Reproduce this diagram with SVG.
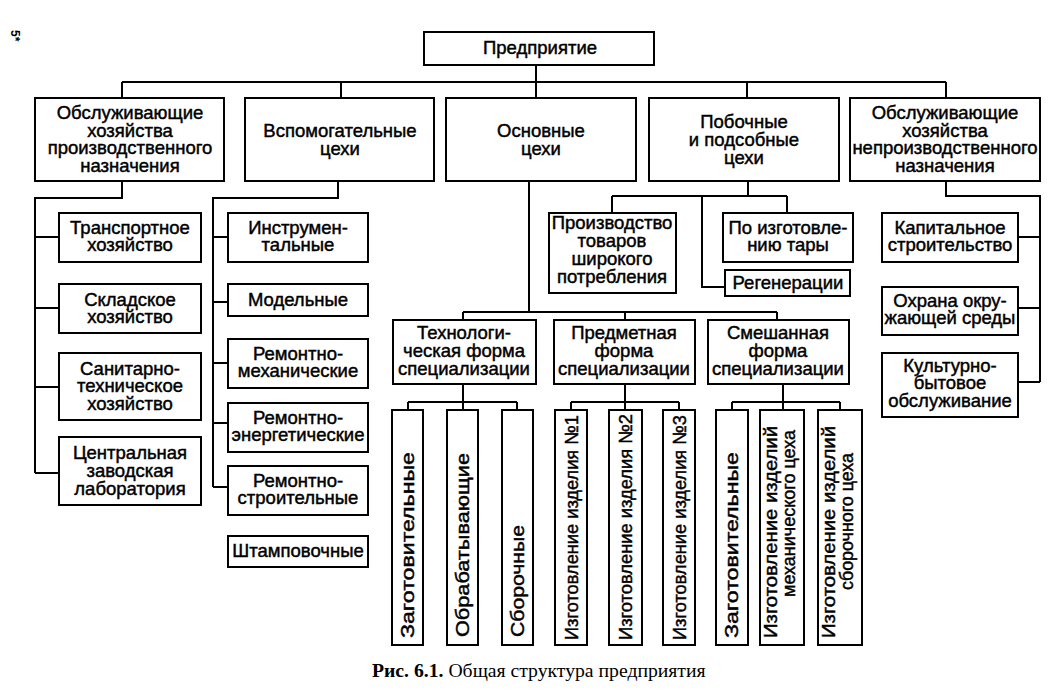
<svg xmlns="http://www.w3.org/2000/svg" width="1064" height="698" viewBox="0 0 1064 698">
<style>
.b{fill:#fff;stroke:#000;stroke-width:2}
.t{font-family:"Liberation Sans",Arial,sans-serif;font-size:18.5px;text-anchor:middle;fill:#000;stroke:#000;stroke-width:0.45}
.v{font-family:"Liberation Sans",Arial,sans-serif;font-size:19px;text-anchor:start;fill:#000;stroke:#000;stroke-width:0.45}
.c{fill:none;stroke:#000;stroke-width:2}
.cap{font-family:"Liberation Serif","Times New Roman",serif;font-size:19.7px;fill:#000}
</style>
<rect width="1064" height="698" fill="#fff"/>
<text x="11" y="30" transform="rotate(90 11 30)" style="font-family:'Liberation Sans',sans-serif;font-size:12px;font-weight:bold">5*</text>
<g id="connectors" class="c">
<path d="M536 65V82M122 82H946M122 82V98M341 82V98M536 82V98M747 82V98M946 82V98"/>
<path d="M122 181V198H35V473M35 237H59M35 308H59M35 387H59M35 473H59"/>
<path d="M338 181V198H213V487M213 237H228M213 302H228M213 363H228M213 423H228M213 487H228"/>
<path d="M748 181V196M612 196H787M612 196V213M787 196V213M702 196V287H725"/>
<path d="M946 181V196H1040V382M1018 237H1040M1018 308H1040M1018 382H1040"/>
<path d="M529 181V312M463 312H777M463 312V320M625 312V320M777 312V320"/>
<path d="M463 384V410M408 402H517M408 402V410M517 402V410"/>
<path d="M625 384V410M571 402H679M571 402V410M679 402V410"/>
<path d="M783 384V410M732 402H840M732 402V410M840 402V410"/>
</g>
<g id="n-top"><rect class="b" x="424" y="32" width="230" height="33"/><text class="t" x="540" y="54">Предприятие</text></g>
<g id="n-b1"><rect class="b" x="35" y="98" width="189" height="83"/><text class="t" x="130" y="119">Обслуживающие</text><text class="t" x="130" y="136.5">хозяйства</text><text class="t" x="130" y="154">производственного</text><text class="t" x="130" y="171.5">назначения</text></g>
<g id="n-b2"><rect class="b" x="245" y="98" width="189" height="83"/><text class="t" x="340" y="137">Вспомогательные</text><text class="t" x="340" y="155">цехи</text></g>
<g id="n-b3"><rect class="b" x="446" y="98" width="190" height="83"/><text class="t" x="541" y="137">Основные</text><text class="t" x="541" y="155">цехи</text></g>
<g id="n-b4"><rect class="b" x="649" y="98" width="190" height="83"/><text class="t" x="744" y="128">Побочные</text><text class="t" x="744" y="146">и подсобные</text><text class="t" x="744" y="164">цехи</text></g>
<g id="n-b5"><rect class="b" x="850" y="98" width="190" height="83"/><text class="t" x="945" y="119">Обслуживающие</text><text class="t" x="945" y="136.5">хозяйства</text><text class="t" x="945" y="154">непроизводственного</text><text class="t" x="945" y="171.5">назначения</text></g>
<g id="n-transp"><rect class="b" x="59" y="213" width="142" height="49"/><text class="t" x="130" y="234">Транспортное</text><text class="t" x="130" y="251">хозяйство</text></g>
<g id="n-sklad"><rect class="b" x="59" y="284" width="142" height="49"/><text class="t" x="130" y="306">Складское</text><text class="t" x="130" y="323">хозяйство</text></g>
<g id="n-sanit"><rect class="b" x="59" y="353" width="142" height="67"/><text class="t" x="130" y="375">Санитарно-</text><text class="t" x="130" y="392">техническое</text><text class="t" x="130" y="410">хозяйство</text></g>
<g id="n-lab"><rect class="b" x="59" y="437" width="142" height="68"/><text class="t" x="130" y="459">Центральная</text><text class="t" x="130" y="477">заводская</text><text class="t" x="130" y="495">лаборатория</text></g>
<g id="n-instr"><rect class="b" x="228" y="213" width="140" height="49"/><text class="t" x="298" y="234">Инструмен-</text><text class="t" x="298" y="251">тальные</text></g>
<g id="n-model"><rect class="b" x="228" y="284" width="140" height="32"/><text class="t" x="298" y="306">Модельные</text></g>
<g id="n-remmech"><rect class="b" x="228" y="339" width="140" height="49"/><text class="t" x="298" y="360">Ремонтно-</text><text class="t" x="298" y="377">механические</text></g>
<g id="n-remen"><rect class="b" x="228" y="403" width="140" height="49"/><text class="t" x="298" y="424">Ремонтно-</text><text class="t" x="298" y="441">энергетические</text></g>
<g id="n-remstr"><rect class="b" x="228" y="466" width="140" height="49"/><text class="t" x="298" y="487">Ремонтно-</text><text class="t" x="298" y="504">строительные</text></g>
<g id="n-stamp"><rect class="b" x="228" y="536" width="140" height="31"/><text class="t" x="298" y="557">Штамповочные</text></g>
<g id="n-tnp"><rect class="b" x="549" y="213" width="127" height="80"/><text class="t" x="612" y="229">Производство</text><text class="t" x="612" y="247">товаров</text><text class="t" x="612" y="265">широкого</text><text class="t" x="612" y="283">потребления</text></g>
<g id="n-tara"><rect class="b" x="723" y="213" width="130" height="49"/><text class="t" x="788" y="234">По изготовле-</text><text class="t" x="788" y="251">нию тары</text></g>
<g id="n-regen"><rect class="b" x="725" y="270" width="125" height="26"/><text class="t" x="788" y="289">Регенерации</text></g>
<g id="n-kap"><rect class="b" x="882" y="213" width="136" height="49"/><text class="t" x="950" y="234">Капитальное</text><text class="t" x="950" y="251">строительство</text></g>
<g id="n-ohr"><rect class="b" x="882" y="287" width="136" height="48"/><text class="t" x="950" y="307">Охрана окру-</text><text class="t" x="950" y="324">жающей среды</text></g>
<g id="n-kult"><rect class="b" x="882" y="353" width="136" height="64"/><text class="t" x="950" y="372">Культурно-</text><text class="t" x="950" y="389">бытовое</text><text class="t" x="950" y="407">обслуживание</text></g>
<g id="n-tech"><rect class="b" x="393" y="320" width="143" height="64"/><text class="t" x="464" y="339">Технологи-</text><text class="t" x="464" y="357">ческая форма</text><text class="t" x="464" y="375">специализации</text></g>
<g id="n-pred"><rect class="b" x="554" y="320" width="141" height="64"/><text class="t" x="624" y="339">Предметная</text><text class="t" x="624" y="357">форма</text><text class="t" x="624" y="375">специализации</text></g>
<g id="n-smesh"><rect class="b" x="708" y="320" width="141" height="64"/><text class="t" x="778" y="339">Смешанная</text><text class="t" x="778" y="357">форма</text><text class="t" x="778" y="375">специализации</text></g>
<g id="n-zag1"><rect class="b" x="392" y="410" width="31" height="235"/><text class="v" x="414" y="638" textLength="186" lengthAdjust="spacingAndGlyphs" transform="rotate(-90 414 638)">Заготовительные</text></g>
<g id="n-obr"><rect class="b" x="447" y="410" width="31" height="235"/><text class="v" x="469" y="637" textLength="184" lengthAdjust="spacingAndGlyphs" transform="rotate(-90 469 637)">Обрабатывающие</text></g>
<g id="n-sbor"><rect class="b" x="502" y="410" width="31" height="235"/><text class="v" x="524" y="637" textLength="112" lengthAdjust="spacingAndGlyphs" transform="rotate(-90 524 637)">Сборочные</text></g>
<g id="n-iz1"><rect class="b" x="555" y="410" width="32" height="235"/><text class="v" x="578" y="640" textLength="225" lengthAdjust="spacingAndGlyphs" transform="rotate(-90 578 640)">Изготовление изделия №1</text></g>
<g id="n-iz2"><rect class="b" x="609" y="410" width="33" height="235"/><text class="v" x="632" y="640" textLength="226" lengthAdjust="spacingAndGlyphs" transform="rotate(-90 632 640)">Изготовление изделия №2</text></g>
<g id="n-iz3"><rect class="b" x="663" y="410" width="32" height="235"/><text class="v" x="686" y="640" textLength="225" lengthAdjust="spacingAndGlyphs" transform="rotate(-90 686 640)">Изготовление изделия №3</text></g>
<g id="n-zag2"><rect class="b" x="716" y="410" width="32" height="235"/><text class="v" x="738" y="638" textLength="186" lengthAdjust="spacingAndGlyphs" transform="rotate(-90 738 638)">Заготовительные</text></g>
<g id="n-mech"><rect class="b" x="760" y="410" width="44" height="235"/><text class="v" x="777" y="638" textLength="212" lengthAdjust="spacingAndGlyphs" transform="rotate(-90 777 638)">Изготовление изделий</text><text class="v" x="795" y="597" textLength="167" lengthAdjust="spacingAndGlyphs" transform="rotate(-90 795 597)">механического цеха</text></g>
<g id="n-sbc"><rect class="b" x="818" y="410" width="44" height="235"/><text class="v" x="835" y="638" textLength="212" lengthAdjust="spacingAndGlyphs" transform="rotate(-90 835 638)">Изготовление изделий</text><text class="v" x="853" y="590" textLength="137" lengthAdjust="spacingAndGlyphs" transform="rotate(-90 853 590)">сборочного цеха</text></g>
<text class="cap" x="372" y="677"><tspan font-weight="bold">Рис. 6.1.</tspan> Общая структура предприятия</text>
</svg>
